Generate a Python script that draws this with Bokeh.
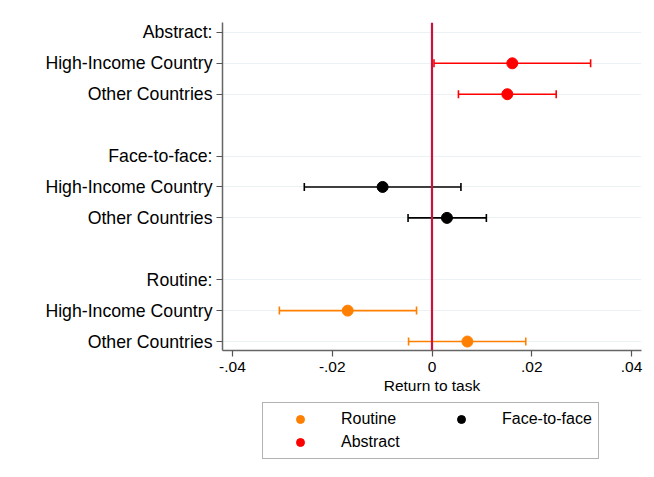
from bokeh.plotting import figure
from bokeh.layouts import column
from bokeh.models import (ColumnDataSource, Range1d, FixedTicker, Whisker, TeeHead,
                          Span, Legend, LegendItem)
from bokeh.embed import file_html
from bokeh.resources import INLINE

# ---- data ----
groups = ["Abstract", "Face-to-face", "Routine"]
group_headers = ["Abstract:", "Face-to-face:", "Routine:"]
row_labels = ["High-Income Country", "Other Countries"]
colors = ["#FF0000", "#000000", "#FF8000"]
legend_order = ["Routine", "Face-to-face", "Abstract"]

coef_hic = [0.0161, -0.0099, -0.0169]
lo_hic = [0.0004, -0.0256, -0.0306]
hi_hic = [0.0318, 0.0058, -0.0031]

coef_oc = [0.0151, 0.0030, 0.0071]
lo_oc = [0.0053, -0.0048, -0.0047]
hi_oc = [0.0249, 0.0109, 0.0188]

x_ticks = [-0.04, -0.02, 0, 0.02, 0.04]
x_tick_labels = ["-.04", "-.02", "0", ".02", ".04"]

FONT = "Liberation Sans"

p = figure(frame_width=419, frame_height=328, output_backend="svg", toolbar_location=None,
           x_range=Range1d(-0.042, 0.042), y_range=Range1d(10.29, -0.32),
           min_border_left=222, min_border_right=13, min_border_top=22,
           min_border_bottom=50)
p.outline_line_color = None
p.background_fill_color = "white"
p.border_fill_color = "white"

# y ticks
tick_pos = []
overrides = {}
for g in range(len(groups)):
    base = 4 * g
    tick_pos.append(base)
    overrides[base] = group_headers[g]
    for k, lab in enumerate(row_labels):
        tick_pos.append(base + 1 + k)
        overrides[base + 1 + k] = lab
p.yaxis.ticker = FixedTicker(ticks=tick_pos)
p.yaxis.major_label_overrides = overrides
p.xaxis.ticker = FixedTicker(ticks=x_ticks)
p.xaxis.major_label_overrides = {t: l for t, l in zip(x_ticks, x_tick_labels)}

for ax in (p.xaxis, p.yaxis):
    ax.axis_line_color = "#666666"
    ax.axis_line_width = 1.5
    ax.major_tick_line_color = "#555555"
    ax.major_tick_line_width = 1.2
    ax.major_tick_out = 6
    ax.major_tick_in = 0
    ax.minor_tick_line_color = None
    ax.major_label_text_font = FONT
    ax.major_label_text_color = "black"
p.yaxis.major_label_text_font_size = "17.7px"
p.yaxis.major_label_standoff = 4
p.xaxis.major_label_text_font_size = "15.5px"
p.xaxis.major_label_standoff = 5
p.xaxis.axis_label = "Return to task"
p.xaxis.axis_label_text_font = FONT
p.xaxis.axis_label_text_font_size = "15.5px"
p.xaxis.axis_label_text_font_style = "normal"
p.xaxis.axis_label_text_color = "black"
p.xaxis.axis_label_standoff = 2

p.xgrid.grid_line_color = None
p.ygrid.grid_line_color = "#EAF2F3"
p.ygrid.grid_line_width = 1.2

for g, name in enumerate(groups):
    ys = [4 * g + 1, 4 * g + 2]
    src = ColumnDataSource(dict(y=ys, x=[coef_hic[g], coef_oc[g]],
                                lo=[lo_hic[g], lo_oc[g]], hi=[hi_hic[g], hi_oc[g]]))
    c = colors[g]
    w = Whisker(source=src, base="y", lower="lo", upper="hi", dimension="width",
                line_color=c, line_width=1.6,
                lower_head=TeeHead(size=8, line_color=c, line_width=1.6),
                upper_head=TeeHead(size=8, line_color=c, line_width=1.6))
    p.add_layout(w)
    p.scatter("x", "y", source=src, size=11, fill_color=c, line_color=c)

p.add_layout(Span(location=0, dimension="height", line_color="#C8143C", line_width=2.2))

# ---- legend panel (separate small figure below, frame aligned with main) ----
lg = figure(width=654, height=77, output_backend="svg", toolbar_location=None,
            x_axis_type=None, y_axis_type=None,
            x_range=Range1d(0, 1), y_range=Range1d(0, 1),
            min_border_left=0, min_border_right=0, min_border_top=0, min_border_bottom=0)
lg.outline_line_color = None
lg.xgrid.grid_line_color = None
lg.ygrid.grid_line_color = None
lg.background_fill_color = "white"
lg.border_fill_color = "white"

nan = float("nan")
items = []
for name in legend_order:
    c = colors[groups.index(name)]
    r = lg.scatter(x=[nan], y=[nan], size=10, fill_color=c, line_color=c)
    items.append(LegendItem(label=name, renderers=[r]))

legend = Legend(items=items, orientation="horizontal", ncols=2, location=(40, 18),
                padding=6, spacing=3, margin=0,
                glyph_width=62, glyph_height=20, label_height=20,
                label_standoff=10, label_width=86,
                label_text_font=FONT, label_text_font_size="16px",
                label_text_color="black",
                border_line_color="#666666", border_line_width=1.5,
                background_fill_color="white")
lg.add_layout(legend, "center")

layout = column(p, lg, spacing=0)
open("out.html", "w").write(file_html(layout, INLINE))
